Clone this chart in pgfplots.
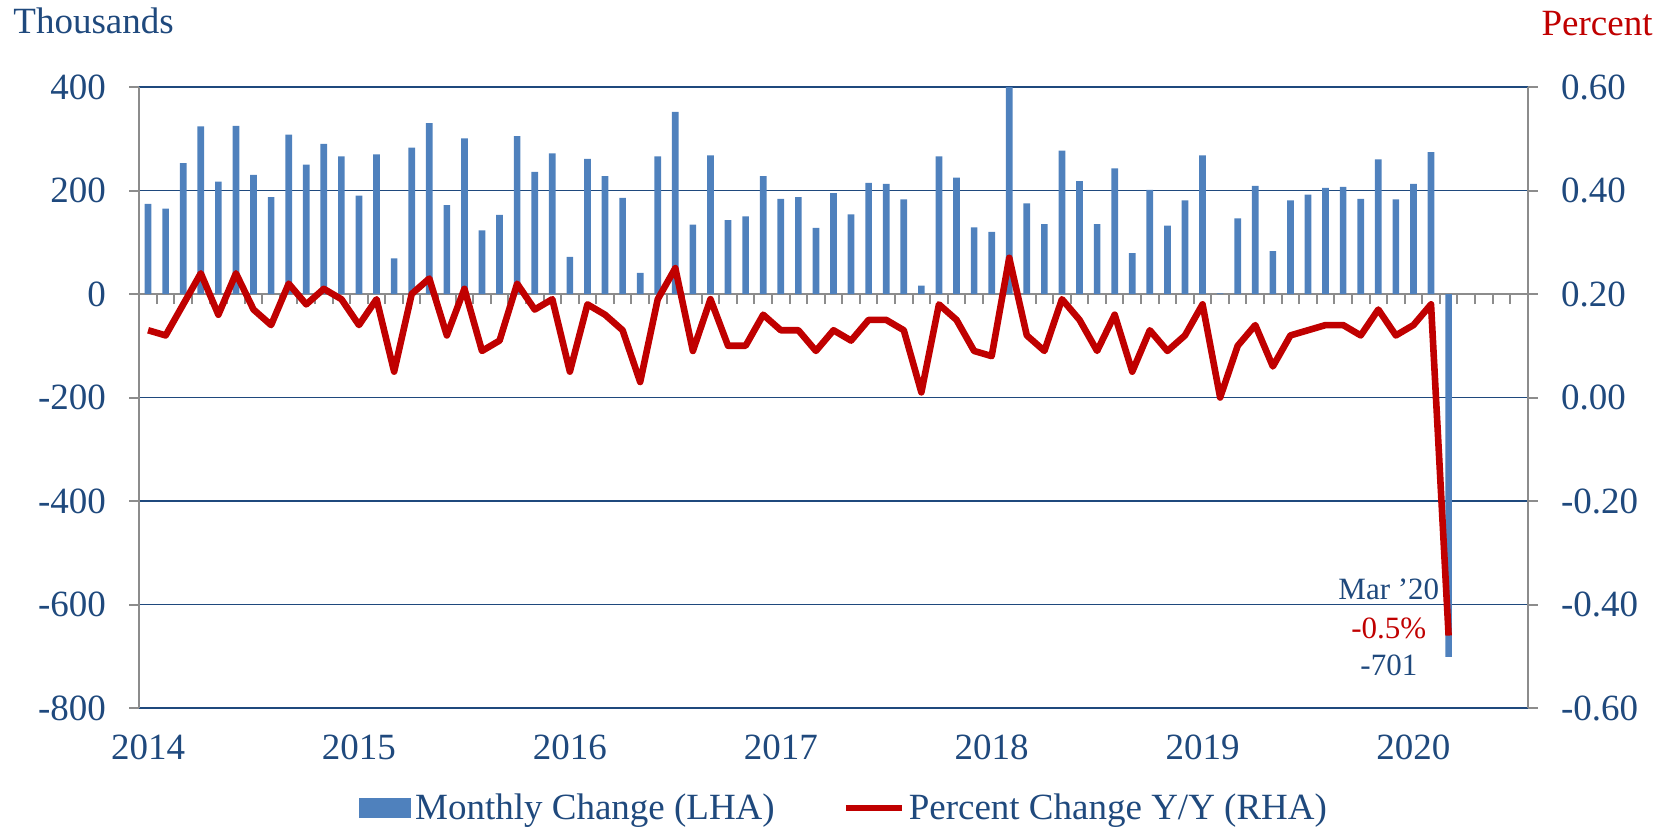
\documentclass[border=0pt]{standalone}
\usepackage{pgfplots}
\pgfplotsset{compat=1.18}
\usepackage{pgfplotstable}
\usepackage{fontspec}
\setmainfont{Liberation Serif}
\definecolor{textblue}{RGB}{31,73,125}
\definecolor{gridblue}{RGB}{31,73,125}
\definecolor{barblue}{RGB}{79,129,189}
\definecolor{linered}{RGB}{192,0,0}
\definecolor{axgray}{RGB}{140,140,140}
\pgfplotstableread{
idx th pc
0 174 0.13
1 165 0.12
2 253 0.18
3 324 0.24
4 217 0.16
5 325 0.24
6 230 0.17
7 187 0.14
8 308 0.22
9 250 0.18
10 290 0.21
11 266 0.19
12 190 0.14
13 270 0.19
14 69 0.05
15 283 0.20
16 330 0.23
17 172 0.12
18 301 0.21
19 123 0.09
20 153 0.11
21 305 0.22
22 236 0.17
23 272 0.19
24 72 0.05
25 261 0.18
26 228 0.16
27 186 0.13
28 41 0.03
29 266 0.19
30 352 0.25
31 134 0.09
32 268 0.19
33 143 0.10
34 150 0.10
35 228 0.16
36 184 0.13
37 187 0.13
38 128 0.09
39 195 0.13
40 154 0.11
41 215 0.15
42 213 0.15
43 183 0.13
44 16 0.01
45 266 0.18
46 225 0.15
47 129 0.09
48 120 0.08
49 400 0.27
50 175 0.12
51 135 0.09
52 277 0.19
53 218 0.15
54 135 0.09
55 243 0.16
56 79 0.05
57 201 0.13
58 132 0.09
59 181 0.12
60 268 0.18
61 1 0.00
62 146 0.10
63 209 0.14
64 83 0.06
65 181 0.12
66 192 0.13
67 205 0.14
68 207 0.14
69 184 0.12
70 260 0.17
71 183 0.12
72 213 0.14
73 274 0.18
74 -701 -0.46
}\datatable
\newcommand{\tfont}{\fontsize{18.5}{21}\selectfont}
\begin{document}
\begin{tikzpicture}
\path[use as bounding box] (-69.65pt,-59.5pt) rectangle (766.35pt,354pt);
\begin{axis}[
  at={(0,0)}, anchor=south west,
  width=694.2pt, height=310.5pt, scale only axis,
  xmin=-0.5, xmax=78.5, ymin=-800, ymax=400,
  axis x line*=middle, axis y line*=left,
  axis line style={axgray, line width=1pt},
  xtick={0,12,24,36,48,60,72},
  xticklabels={2014,2015,2016,2017,2018,2019,2020},
  minor xtick={-0.5,0.5,...,78.5},
  major x tick style={draw=none},
  minor x tick style={axgray, line width=1pt},
  minor tick length=5pt,
  xtick align=outside,
  ytick={-800,-600,-400,-200,0,200,400},
  yticklabels={-800,-600,-400,-200,0,200,400},
  ytick align=outside,
  major y tick style={axgray, line width=1pt},
  major tick length=5pt,
  ymajorgrids, major grid style={gridblue, line width=0.9pt},
  /pgf/number format/assume math mode=true,
  tick label style={font=\tfont, text=textblue},
  yticklabel style={inner sep=0pt, xshift=-11.5pt},
  xticklabel style={inner sep=0pt, anchor=north, yshift=-215pt},
]
\addplot[ybar, bar width=0.38, fill=barblue, draw=none] table[x=idx, y=th] {\datatable};
\node[font=\fontsize{15.5}{17}\selectfont, text=textblue] at (axis cs:70.6,-570) {Mar ’20};
\node[font=\fontsize{15.5}{17}\selectfont, text=linered] at (axis cs:70.6,-647) {-0.5\%};
\node[font=\fontsize{15.5}{17}\selectfont, text=textblue] at (axis cs:70.6,-718) {-701};
\end{axis}
\begin{axis}[
  at={(0,0)}, anchor=south west,
  width=694.2pt, height=310.5pt, scale only axis,
  xmin=-0.5, xmax=78.5, ymin=-0.6, ymax=0.6,
  axis x line=none, axis y line*=right,
  axis line style={axgray, line width=1pt},
  ytick={-0.6,-0.4,-0.2,0,0.2,0.4,0.6},
  yticklabels={-0.60,-0.40,-0.20,0.00,0.20,0.40,0.60},
  ytick align=outside,
  major y tick style={axgray, line width=1pt},
  major tick length=5pt,
  /pgf/number format/assume math mode=true,
  tick label style={font=\tfont, text=textblue},
  yticklabel style={inner sep=0pt, xshift=11.5pt},
  legend style={at={(0.1582,-0.161)}, anchor=west, draw=none, fill=none,
    inner sep=0pt, legend columns=2, font=\tfont, text=textblue,
    /tikz/every even column/.append style={column sep=32pt}},
]
\addlegendimage{legend image code/.code={\fill[barblue] (0pt,-4.75pt) rectangle (25.5pt,4.75pt);}}
\addlegendentry{Monthly Change (LHA)}
\addplot[linered, line width=3.3pt, line join=round,
  legend image code/.code={\draw[linered, line width=3pt] (0pt,0pt) -- (28pt,0pt);}]
  table[x=idx, y=pc] {\datatable};
\addlegendentry{Percent Change Y/Y (RHA)}
\end{axis}
\node[anchor=base west, font=\tfont, text=textblue, inner sep=0pt] at (-63.15pt,337.5pt) {Thousands};
\node[anchor=base east, font=\tfont, text=linered, inner sep=0pt] at (756.85pt,336.5pt) {Percent};
\end{tikzpicture}
\end{document}
